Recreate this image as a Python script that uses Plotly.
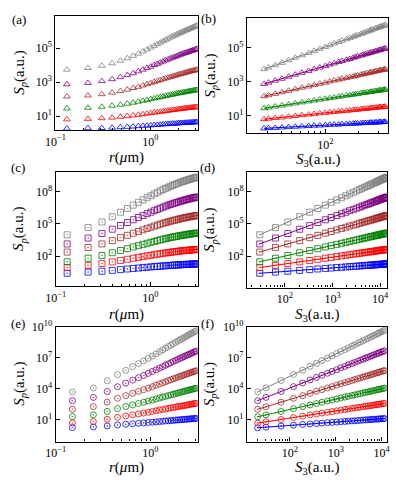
import numpy as np
import plotly.graph_objects as go

# ---------------- data (S_p values stored as log10) ----------------
r_row1 = [0.132, 0.220, 0.308, 0.396, 0.484, 0.572, 0.660, 0.748, 0.836, 0.924,
          1.012, 1.100, 1.188, 1.276, 1.364, 1.452, 1.540, 1.628, 1.716, 1.804,
          1.892, 1.980, 2.068, 2.156, 2.244, 2.332, 2.420, 2.508, 2.596, 2.684,
          2.772, 2.860, 2.948, 3.036, 3.124]
r_row2 = [0.132, 0.220, 0.308, 0.396, 0.484, 0.572, 0.660, 0.748, 0.836, 0.924,
          1.012, 1.100, 1.188, 1.276, 1.364, 1.452, 1.540, 1.628, 1.716, 1.804,
          1.892, 1.980, 2.068, 2.156, 2.244, 2.332, 2.420, 2.508, 2.596, 2.684,
          2.772, 2.860, 2.948, 3.036, 3.124]
r_row3 = [0.15, 0.25, 0.35, 0.45, 0.55, 0.65, 0.75, 0.85, 0.95, 1.05,
          1.15, 1.25, 1.35, 1.45, 1.55, 1.65, 1.75, 1.85, 1.95, 2.05,
          2.15, 2.25, 2.35, 2.45, 2.55, 2.65, 2.75, 2.85, 2.95, 3.05]

# row 1 (triangles), log10 S_p, p = 1..6
a_p1 = [0.27, 0.29, 0.30, 0.32, 0.35, 0.37, 0.39, 0.41, 0.43, 0.44, 0.46, 0.48, 0.49, 0.50, 0.52, 0.53, 0.54, 0.55, 0.56, 0.56, 0.57, 0.58, 0.59, 0.59, 0.60, 0.61, 0.61, 0.62, 0.62, 0.63, 0.63, 0.64, 0.64, 0.65, 0.65]
a_p2 = [0.81, 0.84, 0.88, 0.91, 0.96, 1.00, 1.04, 1.08, 1.11, 1.15, 1.18, 1.21, 1.23, 1.26, 1.28, 1.30, 1.32, 1.34, 1.36, 1.37, 1.39, 1.41, 1.42, 1.43, 1.44, 1.46, 1.47, 1.48, 1.49, 1.50, 1.51, 1.51, 1.52, 1.53, 1.54]
a_p3 = [1.45, 1.49, 1.55, 1.61, 1.67, 1.73, 1.79, 1.85, 1.90, 1.95, 2.00, 2.04, 2.08, 2.12, 2.15, 2.19, 2.22, 2.25, 2.27, 2.29, 2.32, 2.34, 2.36, 2.38, 2.40, 2.41, 2.43, 2.45, 2.46, 2.48, 2.49, 2.50, 2.52, 2.53, 2.54]
a_p4 = [2.15, 2.21, 2.29, 2.38, 2.47, 2.56, 2.65, 2.72, 2.80, 2.88, 2.94, 3.01, 3.07, 3.12, 3.17, 3.22, 3.26, 3.30, 3.34, 3.37, 3.41, 3.44, 3.47, 3.50, 3.52, 3.55, 3.57, 3.60, 3.62, 3.64, 3.66, 3.68, 3.69, 3.71, 3.73]
a_p5 = [2.87, 2.95, 3.06, 3.17, 3.29, 3.41, 3.52, 3.63, 3.73, 3.83, 3.91, 4.00, 4.07, 4.15, 4.21, 4.28, 4.33, 4.39, 4.44, 4.48, 4.52, 4.57, 4.61, 4.64, 4.68, 4.71, 4.74, 4.77, 4.80, 4.83, 4.85, 4.88, 4.90, 4.93, 4.95]
a_p6 = [3.73, 3.83, 3.96, 4.10, 4.25, 4.40, 4.54, 4.67, 4.80, 4.92, 5.03, 5.13, 5.23, 5.32, 5.40, 5.48, 5.55, 5.62, 5.68, 5.73, 5.79, 5.84, 5.89, 5.94, 5.98, 6.02, 6.06, 6.10, 6.13, 6.17, 6.20, 6.23, 6.26, 6.29, 6.32]

# row 2 (squares)
c_p1 = [0.40, 0.51, 0.59, 0.67, 0.74, 0.80, 0.85, 0.89, 0.93, 0.96, 0.99, 1.02, 1.04, 1.06, 1.08, 1.10, 1.12, 1.13, 1.15, 1.16, 1.17, 1.18, 1.19, 1.20, 1.21, 1.22, 1.23, 1.23, 1.24, 1.24, 1.25, 1.26, 1.26, 1.27, 1.27]
c_p2 = [0.93, 1.14, 1.31, 1.46, 1.59, 1.70, 1.80, 1.88, 1.95, 2.02, 2.07, 2.13, 2.18, 2.22, 2.26, 2.29, 2.32, 2.35, 2.38, 2.40, 2.42, 2.45, 2.47, 2.49, 2.50, 2.52, 2.53, 2.54, 2.56, 2.57, 2.58, 2.59, 2.60, 2.61, 2.62]
c_p3 = [1.47, 1.80, 2.06, 2.31, 2.52, 2.69, 2.85, 2.97, 3.09, 3.19, 3.28, 3.36, 3.44, 3.51, 3.57, 3.62, 3.67, 3.72, 3.76, 3.80, 3.83, 3.87, 3.90, 3.93, 3.95, 3.97, 4.00, 4.02, 4.04, 4.06, 4.08, 4.10, 4.11, 4.12, 4.14]
c_p4 = [2.37, 2.80, 3.13, 3.44, 3.71, 3.93, 4.13, 4.29, 4.44, 4.57, 4.68, 4.79, 4.88, 4.97, 5.05, 5.12, 5.18, 5.24, 5.29, 5.34, 5.38, 5.43, 5.47, 5.51, 5.54, 5.57, 5.60, 5.63, 5.65, 5.68, 5.71, 5.72, 5.74, 5.76, 5.78]
c_p5 = [3.13, 3.68, 4.10, 4.50, 4.84, 5.12, 5.38, 5.59, 5.77, 5.94, 6.08, 6.22, 6.34, 6.46, 6.55, 6.64, 6.73, 6.80, 6.86, 6.93, 6.98, 7.04, 7.09, 7.14, 7.18, 7.22, 7.26, 7.29, 7.33, 7.36, 7.39, 7.42, 7.44, 7.46, 7.49]
c_p6 = [3.98, 4.65, 5.17, 5.66, 6.08, 6.43, 6.74, 7.00, 7.23, 7.43, 7.61, 7.78, 7.93, 8.07, 8.19, 8.30, 8.40, 8.49, 8.57, 8.65, 8.72, 8.79, 8.85, 8.91, 8.96, 9.01, 9.06, 9.10, 9.14, 9.18, 9.22, 9.25, 9.28, 9.31, 9.34]

# row 3 (circles)
e_p1 = [0.24, 0.30, 0.40, 0.49, 0.56, 0.61, 0.65, 0.69, 0.73, 0.76, 0.79, 0.82, 0.85, 0.88, 0.90, 0.92, 0.94, 0.96, 0.98, 1.00, 1.01, 1.03, 1.04, 1.06, 1.07, 1.08, 1.10, 1.11, 1.12, 1.13]
e_p2 = [0.69, 0.82, 1.04, 1.23, 1.36, 1.48, 1.57, 1.66, 1.73, 1.80, 1.87, 1.94, 2.00, 2.05, 2.10, 2.15, 2.19, 2.23, 2.27, 2.31, 2.34, 2.37, 2.40, 2.43, 2.47, 2.49, 2.52, 2.54, 2.57, 2.59]
e_p3 = [1.30, 1.48, 1.81, 2.08, 2.28, 2.44, 2.58, 2.70, 2.82, 2.92, 3.02, 3.11, 3.20, 3.27, 3.35, 3.41, 3.48, 3.54, 3.60, 3.65, 3.70, 3.75, 3.79, 3.83, 3.88, 3.92, 3.95, 3.99, 4.03, 4.06]
e_p4 = [2.02, 2.27, 2.71, 3.08, 3.34, 3.57, 3.76, 3.92, 4.07, 4.21, 4.35, 4.48, 4.59, 4.69, 4.80, 4.89, 4.98, 5.05, 5.13, 5.21, 5.27, 5.33, 5.39, 5.45, 5.51, 5.57, 5.61, 5.67, 5.72, 5.76]
e_p5 = [2.85, 3.17, 3.74, 4.21, 4.56, 4.85, 5.09, 5.30, 5.50, 5.68, 5.85, 6.02, 6.16, 6.30, 6.43, 6.54, 6.66, 6.76, 6.86, 6.96, 7.04, 7.12, 7.20, 7.28, 7.35, 7.42, 7.48, 7.55, 7.61, 7.67]
e_p6 = [3.70, 4.09, 4.80, 5.38, 5.80, 6.16, 6.46, 6.72, 6.96, 7.18, 7.40, 7.60, 7.78, 7.95, 8.11, 8.25, 8.39, 8.52, 8.64, 8.76, 8.86, 8.96, 9.06, 9.15, 9.25, 9.33, 9.41, 9.49, 9.57, 9.64]

series_colors = ["#0000ff", "#ff0000", "#008000", "#a52a2a", "#800080", "#808080"]

# ---------------- layout helpers ----------------
W, H = 396, 480
FONT = "Liberation Serif"

def xd(x0, x1):
    return [x0 / W, x1 / W]

def yd(y0, y1):
    return [1 - y1 / H, 1 - y0 / H]

def sup(e):
    return "10<sup>" + str(e).replace("-", "\u2212") + "</sup>"

fig = go.Figure()

rows = [
    (r_row1, [a_p1, a_p2, a_p3, a_p4, a_p5, a_p6], "triangle-up-open"),
    (r_row2, [c_p1, c_p2, c_p3, c_p4, c_p5, c_p6], "square-open-dot"),
    (r_row3, [e_p1, e_p2, e_p3, e_p4, e_p5, e_p6], "circle-open-dot"),
]

for k, (r, ser, sym) in enumerate(rows):
    xl = "x" + ("" if k == 0 else str(2 * k + 1))
    yl = "y" + ("" if k == 0 else str(2 * k + 1))
    xr = "x" + str(2 * k + 2)
    yr = "y" + str(2 * k + 2)
    s3 = np.array(ser[2])
    for p, vals in enumerate(ser):
        v = np.array(vals)
        mk = dict(symbol=sym, size=6, color=series_colors[p], opacity=0.8,
                  line=dict(width=1, color=series_colors[p]))
        fig.add_trace(go.Scatter(x=r, y=10 ** v, mode="markers", marker=mk,
                                 xaxis=xl, yaxis=yl, showlegend=False))
        fig.add_trace(go.Scatter(x=10 ** s3, y=10 ** v, mode="markers", marker=mk,
                                 xaxis=xr, yaxis=yr, showlegend=False))
        slope, icpt = np.polyfit(s3, v, 1)
        xs = np.array([s3.min(), s3.max()])
        fig.add_trace(go.Scatter(x=10 ** xs, y=10 ** (slope * xs + icpt), mode="lines",
                                 line=dict(color=series_colors[p], width=1),
                                 xaxis=xr, yaxis=yr, showlegend=False))

base = dict(type="log", showline=True, linecolor="black", linewidth=1.4, mirror=True,
            ticks="inside", ticklen=4, tickwidth=1, tickcolor="black",
            showgrid=False, zeroline=False,
            tickfont=dict(family=FONT, size=12, color="black"))

def minor(vals):
    return dict(tickmode="array", tickvals=vals, ticks="inside", ticklen=2,
                tickwidth=0.8, tickcolor="black", showgrid=False)

r_minor = [0.2, 0.3, 0.4, 0.5, 0.6, 0.7, 0.8, 0.9, 2, 3]
s_minor = [m * d for d in (10, 100, 1000) for m in range(2, 10)]

panels = {
    # axis index: (xdom px, ydom px, xrange, yrange, xticks, yticks, xminor)
    1: ((47, 194.3), (8.3, 124), (-1, 0.503), (0.19, 6.87), [-1, 0], [1, 3, 5], r_minor),
    2: ((245, 391), (10, 127.5), (1.296, 2.565), (-0.02, 6.73), [2], [1, 3, 5], s_minor),
    3: ((47.3, 194.3), (167, 283), (-1, 0.503), (-0.81, 9.8), [-1, 0], [2, 5, 8], r_minor),
    4: ((245.3, 390.3), (166.7, 284.3), (1.207, 4.155), (-0.93, 9.83), [2, 3, 4], [2, 5, 8], s_minor),
    5: ((47.3, 194.3), (324, 441), (-1, 0.503), (-1.13, 10.05), [-1, 0], [1, 4, 7, 10], r_minor),
    6: ((245, 390.3), (324, 441), (1.067, 4.126), (-1.1, 10.0), [2, 3, 4], [1, 4, 7, 10], s_minor),
}

lay = {}
for i, (xp, yp, xrg, yrg, xt, yt, xm) in panels.items():
    sfx = "" if i == 1 else str(i)
    lay["xaxis" + sfx] = dict(base, domain=xd(*xp), range=list(xrg),
                              anchor="y" + sfx,
                              tickmode="array", tickvals=[10.0 ** e for e in xt],
                              ticktext=[sup(e) for e in xt], minor=minor(xm))
    lay["yaxis" + sfx] = dict(base, domain=yd(*yp), range=list(yrg),
                              anchor="x" + sfx,
                              tickmode="array", tickvals=[10.0 ** e for e in yt],
                              ticktext=[sup(e) for e in yt])

ann = []
tf = dict(family=FONT, size=15, color="black")
ytitle = "<i>S</i><sub><i>p</i></sub>(a.u.)"
rtitle = "<i>r</i>(<i>\u03bc</i>m)"
stitle = "<i>S</i><sub>3</sub>(a.u.)"
for i, (xp, yp, *_rest) in panels.items():
    left = i % 2 == 1
    ytx = 10 if left else 207
    ann.append(dict(x=ytx / W, y=1 - (yp[0] + yp[1]) / 2 / H, xref="paper", yref="paper",
                    text=ytitle, textangle=-90, showarrow=False, font=tf,
                    xanchor="center", yanchor="middle"))
    xty = {1: 152, 2: 155, 3: 312, 4: 312, 5: 467.5, 6: 467.5}[i]
    ann.append(dict(x=(xp[0] + xp[1]) / 2 / W, y=1 - xty / H, xref="paper", yref="paper",
                    text=rtitle if left else stitle, showarrow=False, font=tf,
                    xanchor="center", yanchor="middle"))

letters = [("(a)", 9, 12), ("(b)", 205, 11), ("(c)", 8, 162), ("(d)", 204, 162),
           ("(e)", 8, 321), ("(f)", 204, 321)]
for t, x, y in letters:
    ann.append(dict(x=x / W, y=1 - y / H, xref="paper", yref="paper", text=t,
                    showarrow=False, font=dict(family=FONT, size=13, color="black"),
                    xanchor="center", yanchor="middle"))

fig.update_layout(width=W, height=H, margin=dict(l=0, r=0, t=0, b=0),
                  paper_bgcolor="white", plot_bgcolor="white",
                  annotations=ann, **lay)

fig.write_html("out.html", config={"displayModeBar": False},
               post_script="document.body.style.margin='0px';document.body.style.overflow='hidden';")
